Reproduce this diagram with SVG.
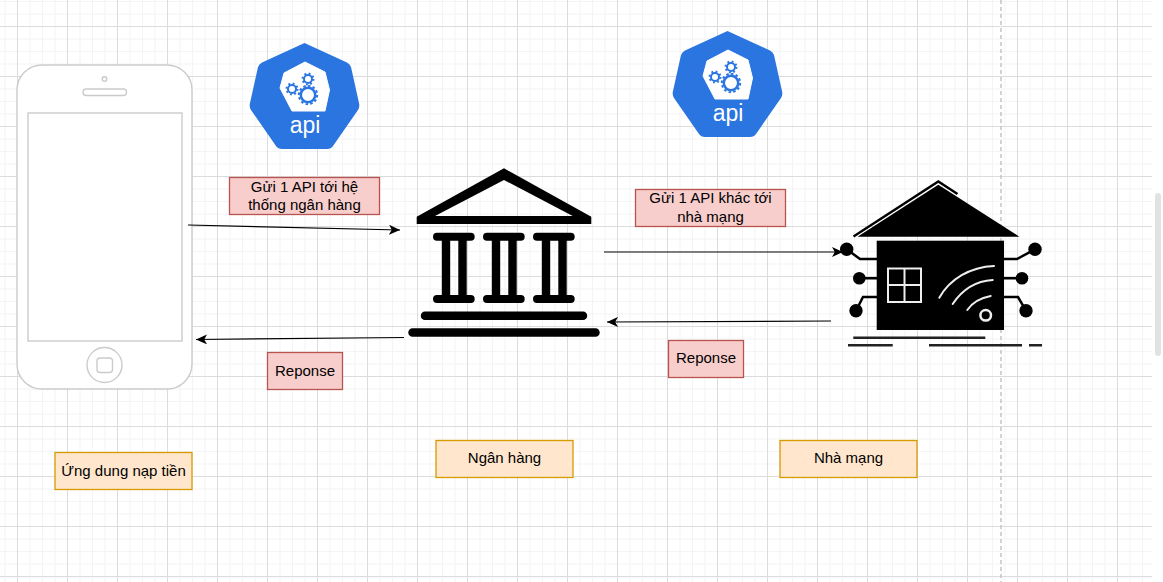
<svg xmlns="http://www.w3.org/2000/svg" xmlns:xlink="http://www.w3.org/1999/xlink" width="1163" height="582" viewBox="0 0 1163 582">
<style>
text{font-family:"Liberation Sans",Arial,sans-serif;font-size:15px;text-anchor:middle;fill:#000}
.red{fill:#f8cecc;stroke:#b85450;stroke-width:1.3}
.org{fill:#ffe6cc;stroke:#d79b00;stroke-width:1.3}
.ph{fill:#fff;stroke:#cbcbcb;stroke-width:1.4}
.con{fill:none;stroke:#000;stroke-width:1.2;marker-end:url(#arr)}
.bk{fill:none;stroke:#000;stroke-linecap:round;stroke-width:8}
.ci{fill:none;stroke:#000;stroke-width:2.500}
.wh{fill:none;stroke:#eee;stroke-width:2;stroke-linecap:round}
</style>
<defs>
<pattern id="grid" width="50" height="50" patternUnits="userSpaceOnUse" x="17" y="26">
<g fill="#f4f4f4"><rect x="12.5" width="1" height="50"/><rect x="25" width="1" height="50"/><rect x="37.5" width="1" height="50"/><rect y="12.5" width="50" height="1"/><rect y="25" width="50" height="1"/><rect y="37.5" width="50" height="1"/></g>
<g fill="#dcdcdc"><rect x="0" width="1" height="50"/><rect y="0" width="50" height="1"/></g>
</pattern>
<marker id="arr" markerUnits="userSpaceOnUse" markerWidth="12" markerHeight="10" refX="11" refY="5" orient="auto"><path d="M0 0L11 5L0 10L2.8 5Z" fill="#000"/></marker>
<g id="apiIcon">
<path d="M304.500 43L347 62.500Q350 64 351 67L359 103Q360 107 358 110L333 146Q331 149 327 149L282 149Q278 149 276 146L251 110Q249 107 250 103L258 67Q259 64 262 62.500Z" fill="#2a75e0"/>
<path d="M305 62L325 72L329.500 90L325 111L292 111L280 88L284 73Z" fill="#fff" stroke="#fff" stroke-linejoin="round"/>
<g fill="none" stroke="#2a75e0">
<circle cx="308" cy="95" r="7.200" stroke-width="2.500"/><circle cx="308" cy="95" r="9.200" stroke-width="2" stroke-dasharray="2.500 2.280"/>
<circle cx="292" cy="89" r="4" stroke-width="2"/><circle cx="292" cy="89" r="5.500" stroke-width="2" stroke-dasharray="1.800 2.520"/>
<circle cx="308" cy="79" r="4" stroke-width="2"/><circle cx="308" cy="79" r="5.500" stroke-width="2" stroke-dasharray="1.800 2.520"/>
</g>
<text x="305" y="133" style="font-size:23px;fill:#fff">api</text>
</g>
<g id="col"><path class="bk" d="M437 236.700H470.700M437 299H470.700"/><path d="M446 238V298M462.500 238V298" stroke="#000" stroke-width="8.400" fill="none"/></g>
</defs>
<rect width="1163" height="582" fill="#fff"/>
<rect width="1152" height="582" fill="url(#grid)"/>
<path d="M1001 0V582" stroke="#c4c4c4" stroke-width="1.500" stroke-dasharray="4 3" fill="none"/>
<rect x="1155" y="193" width="6" height="163" rx="3" fill="#e2e2e2"/>

<g id="phone">
<rect class="ph" x="17" y="65" width="175" height="324" rx="25"/>
<rect class="ph" x="28" y="113" width="154" height="228"/>
<rect class="ph" x="83" y="89" width="43.500" height="6.500" rx="3.200"/>
<circle class="ph" cx="104.500" cy="79" r="2.300"/>
<circle class="ph" cx="104.500" cy="365" r="17.500"/>
<rect class="ph" x="97" y="358" width="15.500" height="14.500" rx="3"/>
</g>
<g id="api-1"><use xlink:href="#apiIcon" href="#apiIcon"/></g>
<g id="api-2"><use xlink:href="#apiIcon" href="#apiIcon" x="423" y="-12"/></g>

<g id="bank">
<path d="M504 168.300L591.300 216.700V224H416.700V216.700Z M504 180L435 216H572.700Z" fill="#000" fill-rule="evenodd"/>
<use xlink:href="#col" href="#col"/><use xlink:href="#col" href="#col" x="50"/><use xlink:href="#col" href="#col" x="100"/>
<path class="bk" d="M425 315.700H583M412.500 332.500H595.500" style="stroke-width:8.500"/>
</g>

<g id="tower">
<path d="M857.500 236.700L938.300 184.800L1019.300 236.700Z" fill="#000"/>
<path d="M853.500 236.500L938.300 181.500L957.500 194" fill="none" stroke="#000" stroke-width="2.400"/>
<rect x="876.700" y="240.700" width="127.300" height="89.300" fill="#000"/>
<path class="ci" d="M846.700 249.300L860 259H877M859 278.300H877M856 310.700L863 297H877M1035 249.300L1017 259H1004M1022 278.300H1004M1026 310.700L1018 297H1004"/>
<g fill="#000"><circle cx="846.700" cy="249.300" r="6.700"/><circle cx="859.300" cy="278.300" r="6.300"/><circle cx="856" cy="310.700" r="6.700"/><circle cx="1035" cy="249.300" r="6.700"/><circle cx="1022" cy="278.300" r="6.300"/><circle cx="1026" cy="310.700" r="6.700"/></g>
<path class="wh" d="M888 268.500H921V302H888ZM904.500 268.500V302M888 285H921" stroke-linecap="butt"/>
<path class="wh" d="M939.300 297.700C950 279 970 267 994 266M952.700 304C962 290 976 281 992.700 280M967.300 310C972 303 980 298 990.700 296"/>
<circle cx="985.700" cy="315.300" r="5.300" fill="none" stroke="#eee" stroke-width="2.500"/>
<path d="M853.300 337.700H985.300M848 345.300H892.700M929 345.300H1022M1029 345.300H1042" stroke="#222" stroke-width="2.500" fill="none"/>
</g>

<g id="connectors">
<path class="con" d="M188 225L400 230"/>
<path class="con" d="M404 337.500L196 339.500"/>
<path class="con" d="M604 252H843"/>
<path class="con" d="M831 321L607 322"/>
</g>

<g id="label-api-bank"><rect class="red" x="229.500" y="177.500" width="150" height="37"/><text x="304.500" y="192">Gửi 1 API tới hệ</text><text x="304.500" y="210">thống ngân hàng</text></g>
<g id="label-api-telco"><rect class="red" x="635.500" y="189.500" width="150" height="37"/><text x="710.500" y="203">Gửi 1 API khác tới</text><text x="710.500" y="222">nhà mạng</text></g>
<g id="label-resp-1"><rect class="red" x="267.500" y="352.500" width="75" height="37"/><text x="305" y="375.500">Reponse</text></g>
<g id="label-resp-2"><rect class="red" x="668.500" y="340.500" width="75" height="37"/><text x="706" y="363">Reponse</text></g>
<g id="label-app"><rect class="org" x="55" y="452.500" width="137" height="37"/><text x="123.500" y="476">Ứng dung nạp tiền</text></g>
<g id="label-bank"><rect class="org" x="436" y="440.500" width="137" height="37"/><text x="504.500" y="463">Ngân hàng</text></g>
<g id="label-telco"><rect class="org" x="780" y="440.500" width="137" height="37"/><text x="848.500" y="463">Nhà mạng</text></g>
</svg>
